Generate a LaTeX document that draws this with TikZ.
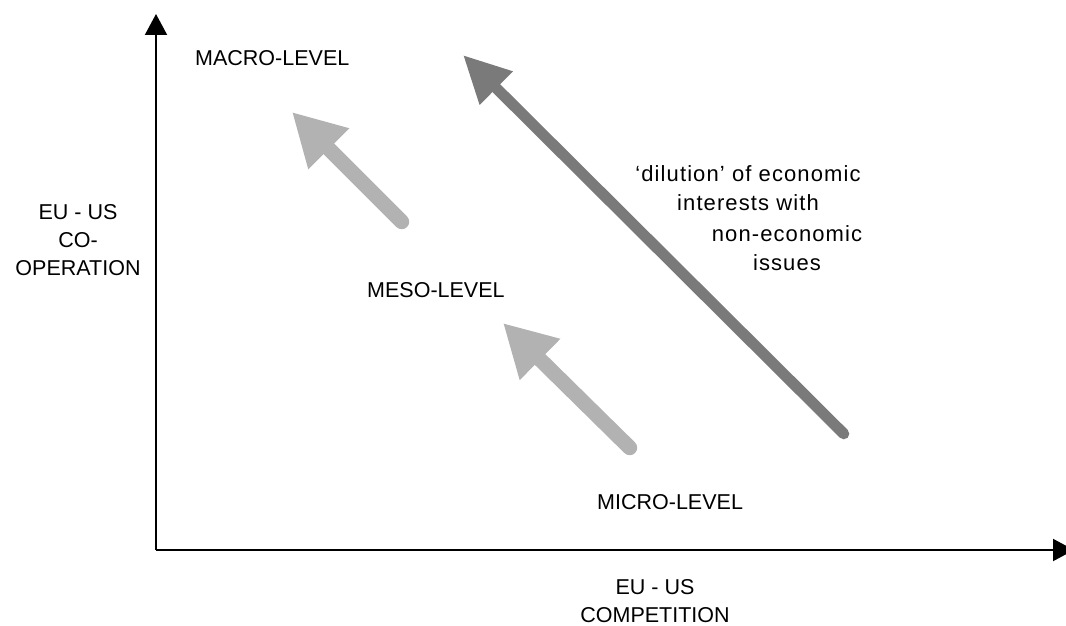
\documentclass[tikz,border=0pt]{standalone}
\usepackage{fontspec}
\setmainfont{Liberation Sans}
\usetikzlibrary{arrows.meta}
\definecolor{lightarr}{RGB}{178,178,178}
\definecolor{darkarr}{RGB}{122,122,122}
\tikzset{
  lbl/.style={font=\fontsize{21.5}{28}\selectfont, inner sep=0pt, text=black},
  widelbl/.style={lbl, font=\fontsize{22}{29.5}\selectfont\addfontfeatures{LetterSpace=5}},
  axis/.style={line width=2pt, -{Triangle[length=21pt,width=22pt]}},
  lightarrow/.style={draw=lightarr, line width=15pt, line cap=round, -{Triangle[length=52pt,width=54pt]}},
  darkarrow/.style={draw=darkarr, line width=11pt, line cap=round, -{Triangle[length=47pt,width=44pt]}}
}
\begin{document}
\begin{tikzpicture}[x=1pt,y=-1pt]
\useasboundingbox (0,0) rectangle (1066,626);
\clip (0,0) rectangle (1066,626);
% axes
\coordinate (origin) at (156,550);
\coordinate (ytop) at (156,14);
\coordinate (xend) at (1074,550);
\draw[axis] (origin) -- (ytop);
\draw[axis] (origin) -- (xend);
% arrows
\coordinate (a1s) at (401.7,221.7);
\coordinate (a1e) at (292,112);
\coordinate (a2s) at (629.7,447.7);
\coordinate (a2e) at (503,323);
\coordinate (a3s) at (843.8,433.8);
\coordinate (a3e) at (463,55);
\draw[lightarrow] (a1s) -- (a1e);
\draw[lightarrow] (a2s) -- (a2e);
\draw[darkarrow] (a3s) -- (a3e);
% labels
\node[lbl, anchor=west] (macro) at (195,58) {MACRO-LEVEL};
\node[lbl, anchor=west] (meso) at (367,290) {MESO-LEVEL};
\node[lbl, anchor=west] (micro) at (597,502) {MICRO-LEVEL};
\node[lbl, align=center] (ylab) at (78,240) {EU - US\\CO-\\OPERATION};
\node[lbl, align=center] (xlab) at (655,601) {EU - US\\COMPETITION};
\node[widelbl, align=center] (dil1) at (748,188) {‘dilution’ of economic\\interests with};
\node[widelbl, align=center] (dil2) at (787,248) {non-economic\\issues};
\end{tikzpicture}
\end{document}
